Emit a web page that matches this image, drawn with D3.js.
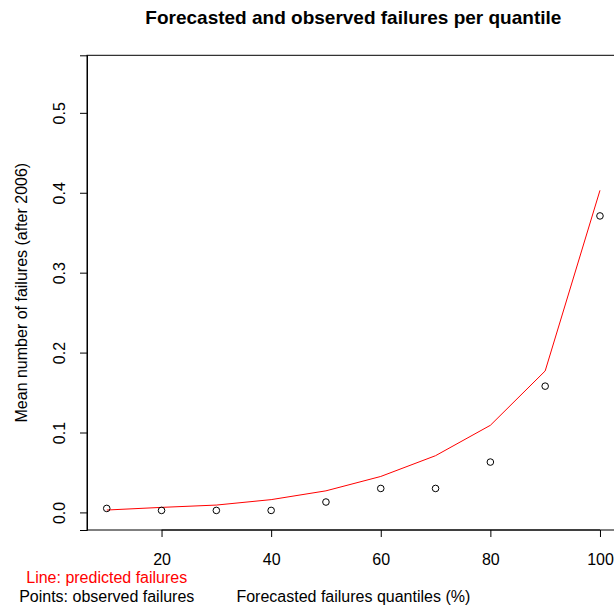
<!DOCTYPE html>
<html>
<head>
<meta charset="utf-8">
<script src="https://cdn.jsdelivr.net/npm/d3@7"></script>
<style>
  html, body { margin: 0; padding: 0; background: #fff; }
  svg { display: block; font-family: "Liberation Sans", Arial, Helvetica, sans-serif; }
</style>
</head>
<body>
<svg id="chart" width="614" height="610"></svg>
<script>
// Quantiles of forecasted failures (%)
const quantiles = [10, 20, 30, 40, 50, 60, 70, 80, 90, 100];
// Mean failures predicted by the model per quantile
const predicted = [0.003, 0.0063, 0.0092, 0.016, 0.027, 0.045, 0.071, 0.109, 0.177, 0.403];
// Mean failures actually observed after 2006 per quantile
const observed = [0.005, 0.0025, 0.0025, 0.0025, 0.013, 0.030, 0.030, 0.063, 0.158, 0.371];
const xTicks = [20, 40, 60, 80, 100];
const yTicks = [0.0, 0.1, 0.2, 0.3, 0.4, 0.5];

const svg = d3.select("#chart");
const plot = { left: 87, top: 55.3, right: 619.7, bottom: 530 };
const fontSize = 16;

// Axis limits padded by 4% on each side
const xPad = (100 - 10) * 0.04, yPad = 0.55 * 0.04;
const x = d3.scaleLinear().domain([10 - xPad, 100 + xPad]).range([plot.left, plot.right]);
const y = d3.scaleLinear().domain([0 - yPad, 0.55 + yPad]).range([plot.bottom, plot.top]);

// Title
svg.append("text")
  .attr("x", (plot.left + plot.right) / 2).attr("y", 23.5)
  .attr("text-anchor", "middle")
  .attr("font-weight", "bold").attr("font-size", 19)
  .text("Forecasted and observed failures per quantile");

// X axis
const xAxis = svg.append("g").attr("transform", `translate(0,${plot.bottom})`)
  .call(d3.axisBottom(x).tickValues(xTicks).tickFormat(d3.format("d")).tickSize(7));
xAxis.attr("font-family", null).attr("font-size", null);
xAxis.select(".domain").attr("d", `M${x(20)},0H${x(100)}`);
xAxis.selectAll(".tick text")
  .attr("font-size", fontSize).attr("fill", "#000")
  .attr("y", 35).attr("dy", null);

// Y axis with vertical labels
const yAxis = svg.append("g").attr("transform", `translate(${plot.left},0)`)
  .call(d3.axisLeft(y).tickValues(yTicks).tickFormat(d3.format(".1f")).tickSize(7));
yAxis.attr("font-family", null).attr("font-size", null);
yAxis.selectAll(".tick text")
  .attr("font-size", fontSize).attr("fill", "#000")
  .attr("x", null).attr("dy", null)
  .attr("text-anchor", "middle")
  .attr("transform", "translate(-22.5,0) rotate(-90)");

// Plot frame
svg.append("rect")
  .attr("x", plot.left).attr("y", plot.top)
  .attr("width", plot.right - plot.left).attr("height", plot.bottom - plot.top)
  .attr("fill", "none").attr("stroke", "#000").attr("stroke-width", 1);

// Predicted line
svg.append("path")
  .datum(quantiles.map((q, i) => [q, predicted[i]]))
  .attr("fill", "none").attr("stroke", "#ff0000").attr("stroke-width", 1)
  .attr("d", d3.line().x(d => x(d[0])).y(d => y(d[1])));

// Observed points
svg.append("g").selectAll("circle")
  .data(quantiles.map((q, i) => [q, observed[i]]))
  .join("circle")
  .attr("cx", d => x(d[0])).attr("cy", d => y(d[1])).attr("r", 3.3)
  .attr("fill", "none").attr("stroke", "#000").attr("stroke-width", 1);

// Axis titles
svg.append("text")
  .attr("x", (plot.left + plot.right) / 2).attr("y", 602)
  .attr("text-anchor", "middle").attr("font-size", fontSize)
  .text("Forecasted failures quantiles (%)");

svg.append("text")
  .attr("transform", `translate(26.5,${(plot.top + plot.bottom) / 2}) rotate(-90)`)
  .attr("text-anchor", "middle").attr("font-size", fontSize)
  .text("Mean number of failures (after 2006)");

// Legend notes under the first quantile
svg.append("text")
  .attr("x", x(10)).attr("y", 583)
  .attr("text-anchor", "middle").attr("font-size", fontSize).attr("fill", "#ff0000")
  .text("Line: predicted failures");
svg.append("text")
  .attr("x", x(10)).attr("y", 602)
  .attr("text-anchor", "middle").attr("font-size", fontSize).attr("fill", "#000")
  .text("Points: observed failures");
</script>
</body>
</html>
